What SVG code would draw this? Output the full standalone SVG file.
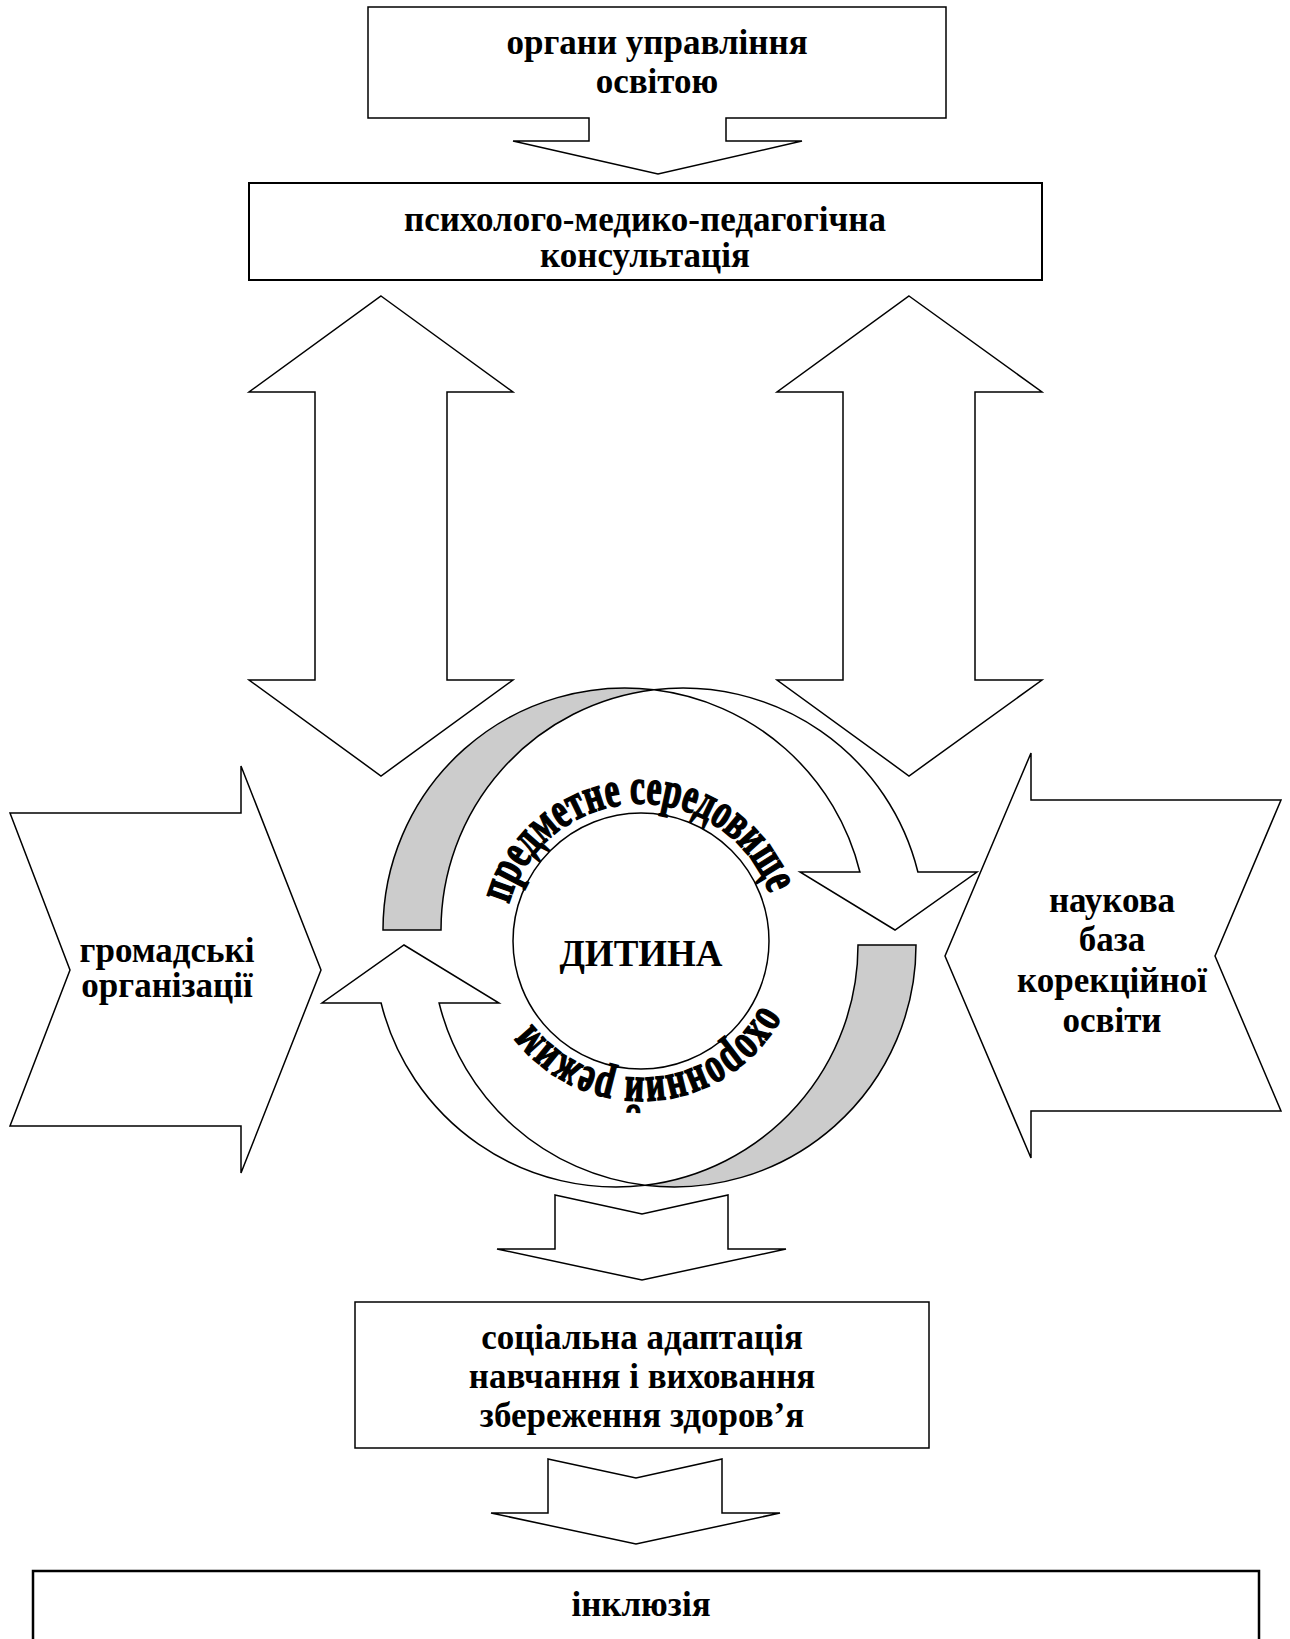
<svg xmlns="http://www.w3.org/2000/svg" width="1290" height="1639" viewBox="0 0 1290 1639">
<defs>
<style>
.sh{fill:#fff;stroke:#000;stroke-width:1.5;stroke-linejoin:miter}
.gr{fill:#cccccc;stroke:#000;stroke-width:1.5}
.t{font-family:"Liberation Serif","Times New Roman",serif;font-weight:bold;font-size:35px;text-anchor:middle;fill:#000}
.arc{font-family:"Liberation Serif","Times New Roman",serif;font-weight:bold;font-size:50px;fill:#000;stroke:#000;stroke-width:1.6}
</style>
<path id="arcTop" d="M508.9,903.9 A137,137 0 0 1 773.3,905.5"/>
<path id="arcBot" d="M762,1005.3 A137,137 0 0 1 522.4,1009.5"/>
</defs>
<rect width="1290" height="1639" fill="#fff"/>

<g id="connectors">
<path class="sh" d="M381,296 L513,392 L447,392 L447,680 L513,680 L381,776 L249,680 L315,680 L315,392 L249,392 Z"/>
<path class="sh" d="M909,296 L1042,392 L975,392 L975,680 L1042,680 L909,776 L777,680 L843,680 L843,392 L777,392 Z"/>
<path class="sh" d="M555,1195 L642,1214 L728,1195 L728,1249 L786,1249 L642,1280 L497,1249 L555,1249 Z"/>
<path class="sh" d="M548,1459 L636,1478 L722,1459 L722,1513 L780,1513 L636,1544 L491,1513 L548,1513 Z"/>
</g>

<g id="node-organy">
<path class="sh" d="M368,7 L946,7 L946,118 L726,118 L726,141 L802,141 L658,174 L513,141 L589,141 L589,118 L368,118 Z"/>
<text class="t" x="657" y="54">органи управління</text>
<text class="t" x="657" y="93">освітою</text>
</g>

<g id="node-pmpk">
<rect class="sh" x="249" y="183" width="793" height="97" style="stroke-width:2"/>
<text class="t" x="645" y="231">психолого-медико-педагогічна</text>
<text class="t" x="645" y="267">консультація</text>
</g>

<g id="node-gromadski">
<path class="sh" d="M10,813 L241,813 L241,766 L321,970 L241,1173 L241,1126 L10,1126 L70,970 Z"/>
<text class="t" x="167" y="962">громадські</text>
<text class="t" x="167" y="997">організації</text>
</g>

<g id="node-naukova">
<path class="sh" d="M1031,753 L1031,800 L1281,800 L1215,956 L1281,1111 L1031,1111 L1031,1158 L945,956 Z"/>
<text class="t" x="1112" y="912">наукова</text>
<text class="t" x="1112" y="951">база</text>
<text class="t" x="1112" y="992">корекційної</text>
<text class="t" x="1112" y="1032">освіти</text>
</g>

<g id="node-dytyna">
<g id="cycle-upper">
<path class="gr" d="M383,930 A242,242 0 0 1 654,689.74 A242,242 0 0 0 441,930 Z"/>
<path class="sh" d="M654,689.74 A242,242 0 0 1 917.9,872 L977,872 L895,930 L800,872 L859.9,872 A242,242 0 0 0 654,689.74 Z"/>
</g>
<g id="cycle-lower" transform="rotate(180 649.5 937.5)">
<path class="gr" d="M383,930 A242,242 0 0 1 654,689.74 A242,242 0 0 0 441,930 Z"/>
<path class="sh" d="M654,689.74 A242,242 0 0 1 917.9,872 L977,872 L895,930 L800,872 L859.9,872 A242,242 0 0 0 654,689.74 Z"/>
</g>
<circle class="sh" cx="641" cy="941" r="128"/>
<text class="t" x="641" y="966" style="font-size:37px">ДИТИНА</text>
<text class="arc"><textPath href="#arcTop" textLength="345" lengthAdjust="spacingAndGlyphs">предметне середовище</textPath></text>
<text class="arc"><textPath href="#arcBot" textLength="275" lengthAdjust="spacingAndGlyphs">охоронний режим</textPath></text>
</g>

<g id="node-social">
<rect class="sh" x="355" y="1302" width="574" height="146"/>
<text class="t" x="642" y="1349">соціальна адаптація</text>
<text class="t" x="642" y="1388">навчання і виховання</text>
<text class="t" x="642" y="1427">збереження здоров’я</text>
</g>

<g id="node-inclusion">
<rect class="sh" x="33" y="1571" width="1226" height="90" style="stroke-width:2.5"/>
<text class="t" x="641" y="1616">інклюзія</text>
</g>
</svg>
